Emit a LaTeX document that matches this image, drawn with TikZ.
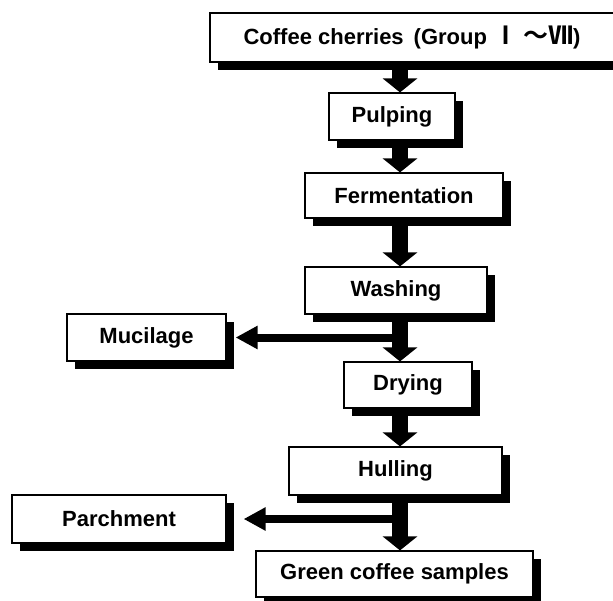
\documentclass[tikz,border=0pt]{standalone}
\usepackage{fontspec}
\setmainfont{Liberation Sans}
\newfontfamily\jpfont{Noto Sans CJK JP}[BoldFont={Noto Sans CJK JP Bold}]
\usetikzlibrary{arrows.meta, shadows}

\tikzset{
  stage/.style={draw, line width=1.2pt, fill=white, inner sep=0pt,
    drop shadow={shadow xshift=8pt, shadow yshift=-8pt, fill=black, opacity=1},
    font=\bfseries\fontsize{22}{24}\selectfont},
  flow/.style={line width=16pt, -{Triangle[width=34pt,length=14pt]}},
  side/.style={line width=8pt, -{Triangle[width=22pt,length=22pt]}}
}

\begin{document}
\begin{tikzpicture}[x=1pt, y=-1pt]
    \useasboundingbox (0,0) rectangle (613,600);
    \fill[white] (0,0) rectangle (613,600);
    \clip (0,0) rectangle (613,600);

    % Main line of stages
    \node[stage, minimum width=404pt, minimum height=49pt] (cherries) at (412,37.5) {Coffee cherries\hspace{10pt}(Group\hspace{6pt}{\jpfont\fontsize{25}{25}\selectfont Ⅰ\hspace{5pt}～Ⅶ})};
    \node[stage, minimum width=126pt, minimum height=47pt] (pulping) at (392,116.5) {Pulping};
    \node[stage, minimum width=198pt, minimum height=45pt] (ferment) at (404,195.5) {Fermentation};
    \node[stage, minimum width=182pt, minimum height=47pt] (washing) at (396,290.5) {Washing};
    \node[stage, minimum width=128pt, minimum height=46pt] (drying) at (408,385) {Drying};
    \node[stage, minimum width=213pt, minimum height=48pt] (hulling) at (395.5,471) {Hulling};
    \node[stage, minimum width=277pt, minimum height=46pt] (green) at (394.5,574) {Green coffee samples};

    % By-products
    \node[stage, minimum width=159pt, minimum height=47pt] (mucilage) at (146.5,337.5) {Mucilage};
    \node[stage, minimum width=214pt, minimum height=48pt] (parchment) at (119,519) {Parchment};

    % Thick arrows down the middle
    \coordinate (spine) at (400,0);
    \draw[flow] (cherries.south -| spine) -- (pulping.north -| spine);
    \draw[flow] (pulping.south -| spine) -- (ferment.north -| spine);
    \draw[flow] (ferment.south -| spine) -- (washing.north -| spine);
    \draw[flow] (washing.south -| spine) -- (drying.north -| spine);
    \draw[flow] (drying.south -| spine) -- (hulling.north -| spine);
    \draw[flow] (hulling.south -| spine) -- (green.north -| spine);

    % Side branches
    \draw[side] (spine |- mucilage.east) -- ([xshift=9pt]mucilage.east);
    \draw[side] (spine |- parchment.east) -- ([xshift=17pt]parchment.east);
\end{tikzpicture}
\end{document}
